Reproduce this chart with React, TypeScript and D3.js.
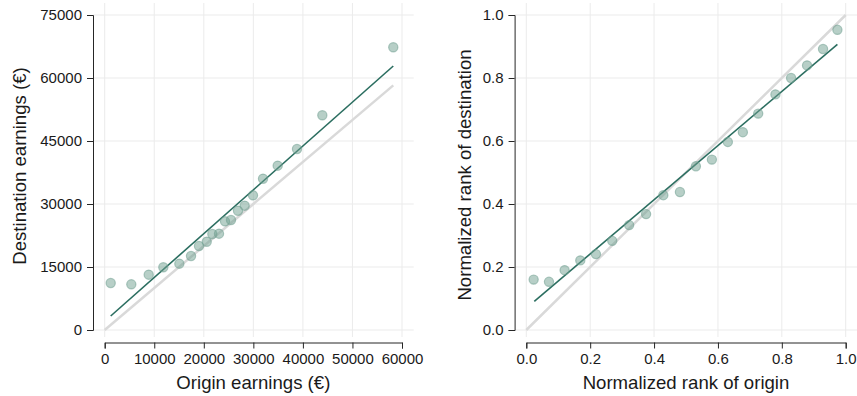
import * as d3 from 'd3';
import { useEffect, useRef } from 'react';

// left panel: earnings (ventiles)
const originEarnings = [1210, 5370, 8880, 11830, 15060, 17420, 19030, 20590, 21720, 23070, 24280, 25490, 26900, 28250, 29930, 31950, 34910, 38810, 43920, 58240];
const destEarnings = [11190, 10880, 13170, 14930, 15790, 17620, 20000, 21020, 22860, 22930, 25880, 26190, 28400, 29600, 32070, 36020, 39120, 43100, 51120, 67310];
const earningsFitX = [1210, 58240];
const earningsFitY = [3330, 62860];
const earningsXTicks = [0, 10000, 20000, 30000, 40000, 50000, 60000];
const earningsYTicks = [0, 15000, 30000, 45000, 60000, 75000];

// right panel: normalized ranks
const rankOrigin = [0.023, 0.071, 0.12, 0.169, 0.218, 0.269, 0.322, 0.375, 0.429, 0.481, 0.531, 0.581, 0.631, 0.678, 0.726, 0.78, 0.829, 0.879, 0.929, 0.974];
const rankDest = [0.16, 0.153, 0.19, 0.221, 0.241, 0.283, 0.333, 0.368, 0.428, 0.438, 0.52, 0.541, 0.597, 0.628, 0.687, 0.748, 0.8, 0.84, 0.892, 0.953];
const rankFitX = [0.025, 0.974];
const rankFitY = [0.091, 0.907];
const rankTicks = [0, 0.2, 0.4, 0.6, 0.8, 1.0];

const FONT = "'Liberation Sans', Arial, Helvetica, sans-serif";

type Panel = {
    xs: number[];
    ys: number[];
    fitX: number[];
    fitY: number[];
    identityMax: number;
    xDomain: [number, number];
    yDomain: [number, number];
    xTicks: number[];
    yTicks: number[];
    fmt: (n: number) => string;
    xRange: [number, number];
    xLabel: string;
    yLabel: string;
    yLabelX: number;
    yLabelY: number;
};

const drawPanel = (svg: d3.Selection<SVGSVGElement, unknown, null, undefined>, p: Panel) => {
    const pad = 11.7;
    const x = d3.scaleLinear().domain(p.xDomain).range(p.xRange);
    const y = d3.scaleLinear().domain(p.yDomain).range([330, 15]);
    const left = p.xRange[0] - pad;
    const right = p.xRange[1] + pad;
    const top = 3;
    const bottom = 337;

    const g = svg.append('g');

    // grid
    g.append('g')
        .selectAll('line')
        .data(p.yTicks)
        .enter()
        .append('line')
        .attr('x1', left)
        .attr('x2', right)
        .attr('y1', (d) => y(d))
        .attr('y2', (d) => y(d))
        .attr('stroke', '#ebebeb')
        .attr('stroke-width', 1);
    g.append('g')
        .selectAll('line')
        .data(p.xTicks)
        .enter()
        .append('line')
        .attr('x1', (d) => x(d))
        .attr('x2', (d) => x(d))
        .attr('y1', top)
        .attr('y2', bottom)
        .attr('stroke', '#ebebeb')
        .attr('stroke-width', 1);

    // 45도 기준선
    g.append('line')
        .attr('x1', x(0))
        .attr('y1', y(0))
        .attr('x2', x(p.identityMax))
        .attr('y2', y(p.identityMax))
        .attr('stroke', '#d9d9d9')
        .attr('stroke-width', 2.5);

    // fit line
    g.append('line')
        .attr('x1', x(p.fitX[0]))
        .attr('y1', y(p.fitY[0]))
        .attr('x2', x(p.fitX[1]))
        .attr('y2', y(p.fitY[1]))
        .attr('stroke', '#2b6e60')
        .attr('stroke-width', 1.6);

    // points
    g.append('g')
        .selectAll('circle')
        .data(p.xs.map((v, i) => [v, p.ys[i]]))
        .enter()
        .append('circle')
        .attr('cx', (d) => x(d[0]))
        .attr('cy', (d) => y(d[1]))
        .attr('r', 4.6)
        .attr('fill', '#6f9f8f')
        .attr('fill-opacity', 0.5)
        .attr('stroke', '#6f9f8f')
        .attr('stroke-opacity', 0.55)
        .attr('stroke-width', 1.2);

    // Y axis
    const yAxis = g
        .append('g')
        .attr('transform', `translate(${left}, 0)`)
        .call(d3.axisLeft(y).tickValues(p.yTicks).tickFormat((d) => p.fmt(d as number)).tickSizeOuter(0).tickSize(6).tickPadding(5));
    // X axis
    const xAxis = g
        .append('g')
        .attr('transform', `translate(0, 342.5)`)
        .call(d3.axisBottom(x).tickValues(p.xTicks).tickFormat((d) => p.fmt(d as number)).tickSizeOuter(0).tickSize(6).tickPadding(4.5));
    [yAxis, xAxis].forEach((a) => {
        a.selectAll('path').attr('stroke', '#262626');
        a.selectAll('line').attr('stroke', '#262626');
        a.selectAll('text').attr('fill', '#1a1a1a').style('font-size', '15px').style('font-family', FONT);
    });

    // titles
    g.append('text')
        .attr('x', (left + right) / 2)
        .attr('y', 389)
        .attr('text-anchor', 'middle')
        .style('font-size', '18.6px')
        .style('font-family', FONT)
        .attr('fill', '#1a1a1a')
        .text(p.xLabel);
    g.append('text')
        .attr('transform', `translate(${p.yLabelX}, ${p.yLabelY}) rotate(-90)`)
        .attr('text-anchor', 'middle')
        .style('font-size', '18.6px')
        .style('font-family', FONT)
        .attr('fill', '#1a1a1a')
        .text(p.yLabel);
};

const App = () => {
    const svgRef = useRef<SVGSVGElement>(null);

    useEffect(() => {
        const svg = d3.select(svgRef.current as SVGSVGElement);
        svg.selectAll('*').remove();

        drawPanel(svg, {
            xs: originEarnings,
            ys: destEarnings,
            fitX: earningsFitX,
            fitY: earningsFitY,
            identityMax: d3.max(originEarnings) as number,
            xDomain: [0, 60000],
            yDomain: [0, 75000],
            xTicks: earningsXTicks,
            yTicks: earningsYTicks,
            fmt: d3.format('d'),
            xRange: [104.7, 402],
            xLabel: 'Origin earnings (€)',
            yLabel: 'Destination earnings (€)',
            yLabelX: 25.5,
            yLabelY: 166,
        });

        drawPanel(svg, {
            xs: rankOrigin,
            ys: rankDest,
            fitX: rankFitX,
            fitY: rankFitY,
            identityMax: 1,
            xDomain: [0, 1],
            yDomain: [0, 1],
            xTicks: rankTicks,
            yTicks: rankTicks,
            fmt: d3.format('.1f'),
            xRange: [526.3, 845.7],
            xLabel: 'Normalized rank of origin',
            yLabel: 'Normalized rank of destination',
            yLabelX: 470.5,
            yLabelY: 175,
        });
    }, []);

    return (
        <>
            <style>{'body { margin: 0; }'}</style>
            <svg ref={svgRef} width={857} height={396} style={{ display: 'block', background: '#fff' }} />
        </>
    );
};

export default App;
